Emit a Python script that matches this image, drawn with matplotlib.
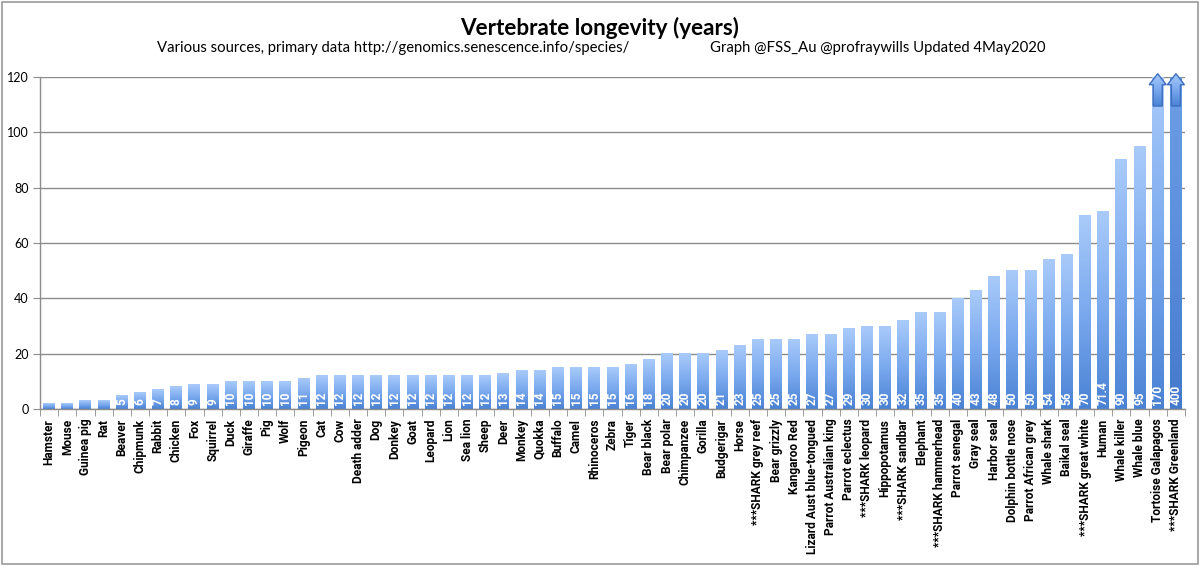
import numpy as np
import matplotlib
matplotlib.use("Agg")
import matplotlib.pyplot as plt
import matplotlib.patches as mpatches
from matplotlib.colors import LinearSegmentedColormap

plt.rcParams['font.family'] = ['Lato', 'DejaVu Sans']
label_font = ['Roboto', 'DejaVu Sans']

species = [
    "Hamster", "Mouse", "Guinea pig", "Rat", "Beaver", "Chipmunk", "Rabbit",
    "Chicken", "Fox", "Squirrel", "Duck", "Giraffe", "Pig", "Wolf", "Pigeon",
    "Cat", "Cow", "Death adder", "Dog", "Donkey", "Goat", "Leopard", "Lion",
    "Sea lion", "Sheep", "Deer", "Monkey", "Quokka", "Buffalo", "Camel",
    "Rhinoceros", "Zebra", "Tiger", "Bear black", "Bear polar", "Chimpanzee",
    "Gorilla", "Budgerigar", "Horse", "***SHARK grey reef", "Bear grizzly",
    "Kangaroo Red", "Lizard Aust blue-tongued", "Parrot Australian king",
    "Parrot eclectus", "***SHARK leopard", "Hippopotamus", "***SHARK sandbar",
    "Elephant", "***SHARK hammerhead", "Parrot senegal", "Gray seal",
    "Harbor seal", "Dolphin bottle nose", "Parrot African grey", "Whale shark",
    "Baikal seal", "***SHARK great white", "Human", "Whale killer",
    "Whale blue", "Tortoise Galapagos", "***SHARK Greenland",
]
years = [
    2, 2, 3, 3, 5, 6, 7, 8, 9, 9, 10, 10, 10, 10, 11, 12, 12, 12, 12, 12, 12,
    12, 12, 12, 12, 13, 14, 14, 15, 15, 15, 15, 16, 18, 20, 20, 20, 21, 23,
    25, 25, 25, 27, 27, 29, 30, 30, 32, 35, 35, 40, 43, 48, 50, 50, 54, 56,
    70, 71.4, 90, 95, 170, 400,
]
value_labels = [("%g" % v) for v in years]

title = "Vertebrate longevity (years)"
subtitle_left = "Various sources, primary data http://genomics.senescence.info/species/"
subtitle_right = "Graph @FSS_Au @profraywills Updated 4May2020"

ymax = 120
yticks = [0, 20, 40, 60, 80, 100, 120]
bar_w = 0.66
min_label = 5          # bars shorter than this have no room for their label
grid_col = "#8c8c8c"

bar_cmap = LinearSegmentedColormap.from_list("bar", ["#4a82d4", "#7aa9ee", "#a9cbfa"])
last_cmap = LinearSegmentedColormap.from_list("last", ["#4479cb", "#5a8edc", "#6e9fe6"])
grad = np.linspace(0, 1, 256).reshape(-1, 1)

fig = plt.figure(figsize=(12, 5.66), dpi=100)
ax = fig.add_axes([40 / 1200, 1 - 409 / 566, 1145 / 1200, 332 / 566])

n = len(species)
for i, v in enumerate(years):
    h = min(v, ymax)
    x0 = i - bar_w / 2
    cmap = last_cmap if i == n - 1 else bar_cmap
    ax.imshow(grad, extent=(x0, x0 + bar_w, 0, h), origin="lower",
              cmap=cmap, aspect="auto", zorder=2, interpolation="bilinear")
    if v >= min_label:
        ax.annotate(value_labels[i], xy=(i, 0), xytext=(0, 3),
                    textcoords="offset points", rotation=90,
                    ha="center", va="bottom", color="white",
                    fontsize=8.5, fontweight="bold", family=label_font,
                    zorder=4)

    # values off the scale get an up arrow on top
    if v > ymax:
        hw, sw = 0.47, 0.25
        pts = [(i - sw, 109.5), (i - sw, 117.2), (i - hw, 117.2), (i, 121.2),
               (i + hw, 117.2), (i + sw, 117.2), (i + sw, 109.5)]
        arrow = mpatches.Polygon(pts, closed=True, facecolor="none",
                                 edgecolor="#3f70c0", lw=1.0, zorder=6,
                                 clip_on=False)
        ax.add_patch(arrow)
        im = ax.imshow(grad, extent=(i - hw, i + hw, 109.5, 121.2),
                       origin="lower", cmap=bar_cmap, aspect="auto",
                       zorder=5, interpolation="bilinear")
        im.set_clip_path(arrow)
        im.set_clip_box(fig.bbox)

ax.set_xlim(-0.5, n - 0.5)
ax.set_ylim(0, ymax)

ax.set_yticks(yticks)
ax.yaxis.grid(True, color=grid_col, lw=1.0, zorder=0)
ax.set_axisbelow(True)
ax.tick_params(axis="y", length=5, color=grid_col, labelsize=9, pad=3)

ax.set_xticks(range(n))
ax.set_xticklabels(species, rotation=90, fontsize=8.6, fontweight="bold",
                   family=label_font)
ax.set_xticks(np.arange(-0.5, n, 1), minor=True)
ax.tick_params(axis="x", which="major", length=0, pad=7)
ax.tick_params(axis="x", which="minor", length=5, color=grid_col)

for s in ("top", "right"):
    ax.spines[s].set_visible(False)
for s in ("left", "bottom"):
    ax.spines[s].set_color(grid_col)
    ax.spines[s].set_linewidth(1.0)

fig.text(0.5, 1 - 35 / 566, title, ha="center", va="baseline",
         fontsize=16.2, fontweight="bold")
fig.text(157 / 1200, 1 - 52 / 566, subtitle_left, ha="left", va="baseline",
         fontsize=10.7)
fig.text(710 / 1200, 1 - 52 / 566, subtitle_right, ha="left", va="baseline",
         fontsize=10.7)

fig.patches.append(mpatches.Rectangle((0.002, 0.003), 0.996, 0.994,
                                      transform=fig.transFigure, fill=False,
                                      edgecolor="#9a9a9a", lw=1.2))

fig.savefig("out.png", dpi=100)
